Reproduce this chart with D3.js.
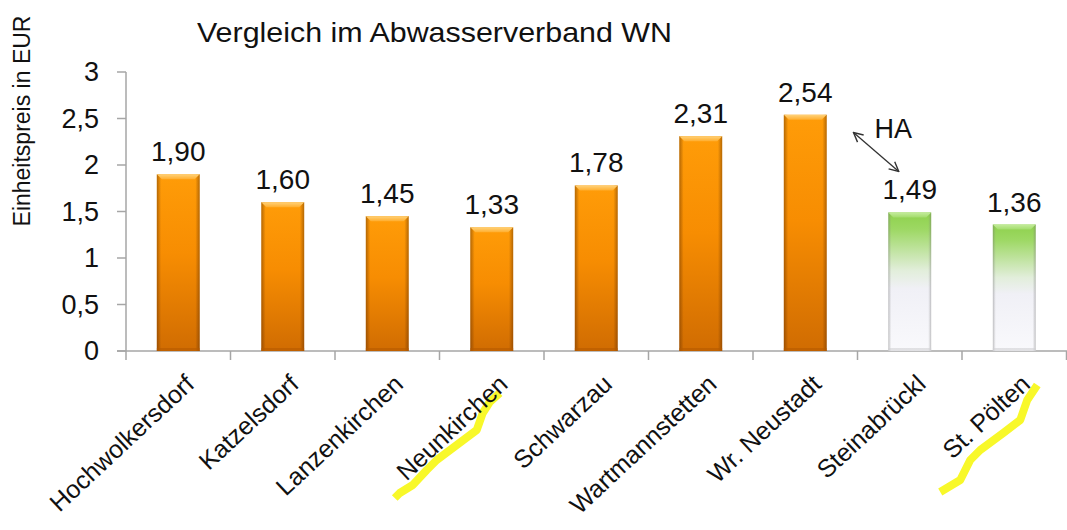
<!DOCTYPE html>
<html>
<head>
<meta charset="utf-8">
<script src="https://cdn.jsdelivr.net/npm/d3@7"></script>
<style>
  body { margin: 0; background: #fff; }
  svg { display: block; font-family: Arial, "Liberation Sans", sans-serif; }
</style>
</head>
<body>
<svg></svg>
<script>
// data
var categories = ["Hochwolkersdorf", "Katzelsdorf", "Lanzenkirchen", "Neunkirchen", "Schwarzau",
                  "Wartmannstetten", "Wr. Neustadt", "Steinabrückl", "St. Pölten"];
var prices = [1.90, 1.60, 1.45, 1.33, 1.78, 2.31, 2.54, 1.49, 1.36];
var groups = ["awv", "awv", "awv", "awv", "awv", "awv", "awv", "ha", "ha"];
var yTicks = [0, 0.5, 1, 1.5, 2, 2.5, 3];
var highlighted = ["Neunkirchen", "St. Pölten"];

var svg = d3.select("svg")
    .attr("width", 1067)
    .attr("height", 530);

var de = d3.formatLocale({decimal: ",", thousands: ".", grouping: [3], currency: ["", " €"]});
var fmtValue = de.format(".2f"),
    fmtTick = de.format(".1~f");

//scales
var x = d3.scaleBand().domain(categories).range([126, 1066.5]).padding(0),
    y = d3.scaleLinear().domain([0, 3]).range([351, 72]);
var barW = x.bandwidth() * 0.41;

//gradients
var defs = svg.append("defs");
function grad(id, stops, horiz) {
    var lg = defs.append("linearGradient").attr("id", id)
        .attr("x1", 0).attr("y1", 0)
        .attr("x2", horiz ? 1 : 0).attr("y2", horiz ? 0 : 1);
    stops.forEach(function(s) {
        lg.append("stop").attr("offset", s[0]).attr("stop-color", s[1]).attr("stop-opacity", s[2] == null ? 1 : s[2]);
    });
}
grad("orangeV", [[0, "#ff9c08"], [0.45, "#f78d02"], [1, "#d06c02"]]);
grad("greenV", [[0, "#8ed14c"], [0.12, "#9dd863"], [0.42, "#e2eedb"], [0.55, "#f0f0f6"], [1, "#f9f9fc"]]);
grad("sideShade", [[0, "#5a2a00", 0.45], [0.1, "#5a2a00", 0], [0.9, "#5a2a00", 0], [1, "#5a2a00", 0.45]], true);
grad("sideGrey", [[0, "#666", 0.4], [0.07, "#888", 0], [0.93, "#888", 0], [1, "#666", 0.4]], true);
grad("bevelO", [[0, "#ffd27a"], [1, "#ffae2e"]]);
grad("bevelG", [[0, "#c4ec9c"], [1, "#a3dc6c"]]);

//title
svg.append("text")
    .attr("x", 197).attr("y", 42)
    .attr("textLength", 475)
    .attr("lengthAdjust", "spacingAndGlyphs")
    .style("font-size", "28px").style("fill", "#111")
    .text("Vergleich im Abwasserverband WN");

//y axis title
svg.append("text")
    .attr("transform", "translate(30,121) rotate(-90)")
    .attr("text-anchor", "middle")
    .style("font-size", "23px").style("fill", "#111")
    .text("Einheitspreis in EUR");

//axes lines
var axisColor = "#a6a6a6";
svg.append("line")
    .attr("x1", 126).attr("x2", 126)
    .attr("y1", y(3)).attr("y2", y(0))
    .style("stroke", axisColor).style("stroke-width", 1.5);
svg.append("line")
    .attr("x1", 117).attr("x2", 1067)
    .attr("y1", y(0)).attr("y2", y(0))
    .style("stroke", axisColor).style("stroke-width", 1.5);

var yt = svg.append("g").selectAll("g").data(yTicks).enter().append("g");
yt.append("line")
    .attr("x1", 117).attr("x2", 126)
    .attr("y1", function(d) { return y(d); }).attr("y2", function(d) { return y(d); })
    .style("stroke", axisColor).style("stroke-width", 1.5);
yt.append("text")
    .attr("x", 99).attr("y", function(d) { return y(d); })
    .attr("dy", "0.35em")
    .attr("text-anchor", "end")
    .style("font-size", "27px").style("fill", "#111")
    .text(function(d) { return fmtTick(d); });

//category ticks on band edges
svg.append("g").selectAll("line")
    .data(categories.concat(["_end"]))
    .enter().append("line")
    .attr("x1", function(d, i) { return 126 + i * x.step(); })
    .attr("x2", function(d, i) { return 126 + i * x.step(); })
    .attr("y1", y(0)).attr("y2", y(0) + 9)
    .style("stroke", axisColor).style("stroke-width", 1.5);

//bars
var bars = svg.append("g").selectAll("g")
    .data(prices)
    .enter().append("g")
    .attr("transform", function(d, i) {
        return "translate(" + (x(categories[i]) + (x.bandwidth() - barW) / 2) + ",0)";
    });

bars.append("rect")
    .attr("x", 0).attr("width", barW)
    .attr("y", function(d) { return y(d); })
    .attr("height", function(d) { return y(0) - y(d); })
    .style("fill", function(d, i) { return groups[i] === "ha" ? "url(#greenV)" : "url(#orangeV)"; });
bars.append("rect")
    .attr("x", 0).attr("width", barW)
    .attr("y", function(d) { return y(d); })
    .attr("height", function(d) { return y(0) - y(d); })
    .style("fill", function(d, i) { return groups[i] === "ha" ? "url(#sideGrey)" : "url(#sideShade)"; });
// top bevel
bars.append("path")
    .attr("d", function(d) {
        var t = y(d), b = 5;
        return "M0," + t + "L" + barW + "," + t + "L" + (barW - b) + "," + (t + b) + "L" + b + "," + (t + b) + "Z";
    })
    .style("fill", function(d, i) { return groups[i] === "ha" ? "url(#bevelG)" : "url(#bevelO)"; });
// bottom edge
bars.append("rect")
    .attr("x", 0).attr("width", barW)
    .attr("y", y(0) - 3).attr("height", 3)
    .style("fill", function(d, i) { return groups[i] === "ha" ? "#d0d0d4" : "#b55a00"; })
    .style("opacity", 0.6);

//value labels
bars.append("text")
    .attr("x", barW / 2)
    .attr("y", function(d) { return y(d) - 13; })
    .attr("text-anchor", "middle")
    .style("font-size", "28px").style("fill", "#111")
    .text(function(d) { return fmtValue(d); });

//yellow marker strokes under two names (offsets from band centre)
var markerOffsets = {
    "Neunkirchen": [[-97, 498], [-92, 493], [-79, 485], [-65, 470], [-55, 460], [-35, 445], [-15, 430], [-9, 413], [-2, 402], [8, 393]],
    "St. Pölten": [[-74, 492], [-54, 480], [-44, 460], [-34, 450], [-11, 433], [6, 420], [13, 400], [23, 385]]
};
var markerLine = d3.line().curve(d3.curveLinear);
svg.append("g").selectAll("path")
    .data(highlighted)
    .enter().append("path")
    .attr("d", function(c) {
        var cx = x(c) + x.bandwidth() / 2;
        return markerLine(markerOffsets[c].map(function(p) { return [cx + p[0], p[1]]; }));
    })
    .style("fill", "none")
    .style("stroke", "#f8f82a")
    .style("stroke-width", 8)
    .style("stroke-linejoin", "round");

//category labels
svg.append("g").selectAll("text")
    .data(categories)
    .enter().append("text")
    .attr("transform", function(d) {
        return "translate(" + (x(d) + x.bandwidth() / 2 + 17.5) + ",386) rotate(-43)";
    })
    .attr("text-anchor", "end")
    .style("font-size", "25px").style("fill", "#111")
    .text(function(d) { return d; });

//HA annotation
defs.append("marker")
    .attr("id", "arrowOpen")
    .attr("viewBox", "0 0 10 10")
    .attr("refX", 9).attr("refY", 5)
    .attr("markerWidth", 9).attr("markerHeight", 9)
    .attr("orient", "auto-start-reverse")
    .append("path")
    .attr("d", "M1,1L9,5L1,9")
    .style("fill", "none").style("stroke", "#333").style("stroke-width", 1.2);

var xWr = x("Wr. Neustadt") + x.step(),
    xSt = x("Steinabrückl") + x.bandwidth() / 2;
svg.append("line")
    .attr("x1", xWr - 4).attr("y1", y(2.35))
    .attr("x2", xSt - 11).attr("y2", y(1.93))
    .attr("marker-start", "url(#arrowOpen)")
    .attr("marker-end", "url(#arrowOpen)")
    .style("stroke", "#333").style("stroke-width", 1.3);
svg.append("text")
    .attr("x", xWr + 17).attr("y", y(2.29))
    .style("font-size", "27px").style("fill", "#111")
    .text("HA");
</script>
</body>
</html>
